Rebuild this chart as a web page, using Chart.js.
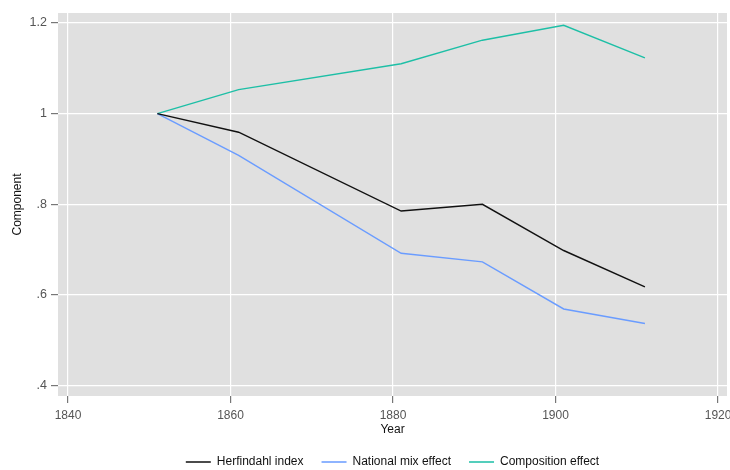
<!DOCTYPE html>
<html>
<head>
<meta charset="utf-8">
<script src="https://cdn.jsdelivr.net/npm/chart.js@4.4.1/dist/chart.umd.min.js"></script>
<style>
  html, body { margin: 0; padding: 0; background: #fff; }
  #wrap { width: 730px; height: 470px; }
</style>
</head>
<body>
<div id="wrap"><canvas id="chart"></canvas></div>
<script>
// values
const years = [1851, 1861, 1881, 1891, 1901, 1911];
const herfindahl = [1.000, 0.959, 0.785, 0.800, 0.698, 0.618];
const nationalMix = [1.000, 0.908, 0.692, 0.673, 0.569, 0.537];
const composition = [1.000, 1.053, 1.110, 1.162, 1.195, 1.123];
const xTicks = [1840, 1860, 1880, 1900, 1920];
const yTicks = [0.4, 0.6, 0.8, 1.0, 1.2];

const toPoints = vals => vals.map((v, i) => ({ x: years[i], y: v }));
const FONT = 'Liberation Sans';

// gray plot region like the stata scheme
const plotBg = {
  id: 'plotBg',
  beforeDraw(chart) {
    const a = chart.chartArea, ctx = chart.ctx;
    ctx.save();
    ctx.fillStyle = '#e0e0e0';
    ctx.fillRect(a.left, a.top, a.right - a.left, a.bottom - a.top);
    ctx.restore();
  }
};

const ctx = document.getElementById('chart');
new Chart(ctx, {
  type: 'line',
  data: {
    datasets: [
      { label: 'Herfindahl index', data: toPoints(herfindahl), borderColor: '#111111', backgroundColor: '#111111' },
      { label: 'National mix effect', data: toPoints(nationalMix), borderColor: '#6a9cff', backgroundColor: '#6a9cff' },
      { label: 'Composition effect', data: toPoints(composition), borderColor: '#1dbfa6', backgroundColor: '#1dbfa6' }
    ]
  },
  options: {
    responsive: true,
    maintainAspectRatio: false,
    animation: false,
    elements: {
      point: { radius: 0 },
      line: { borderWidth: 1.4, tension: 0 }
    },
    layout: { padding: { top: 13, right: 3, left: 0, bottom: 0 } },
    plugins: {
      tooltip: { enabled: false },
      legend: {
        position: 'bottom',
        fullSize: false, // centred under the plot region, not the canvas
        maxHeight: 32,
        labels: {
          font: { family: FONT, size: 12 },
          color: '#111',
          boxWidth: 25,
          boxHeight: 0,
          padding: 18,
          generateLabels: chart => {
            const items = Chart.defaults.plugins.legend.labels.generateLabels(chart);
            items.forEach(it => { it.lineWidth = 1.3; });
            return items;
          }
        }
      }
    },
    scales: {
      x: {
        type: 'linear',
        min: 1838.77,
        max: 1921.1,
        afterBuildTicks: s => { s.ticks = xTicks.map(v => ({ value: v })); },
        afterFit: s => { s.height = 42; s.paddingRight = 0; s.paddingLeft = 0; },
        grid: { color: '#ffffff', lineWidth: 1.2, tickColor: '#777', tickLength: 7 },
        border: { display: false },
        ticks: {
          font: { family: FONT, size: 12 },
          color: '#555',
          padding: 5,
          maxRotation: 0,
          callback: v => String(v)
        },
        title: { display: true, text: 'Year', font: { family: FONT, size: 12 }, color: '#111', padding: { top: 0, bottom: 1 } }
      },
      y: {
        min: 0.377,
        max: 1.222,
        afterBuildTicks: s => { s.ticks = yTicks.map(v => ({ value: v })); },
        afterFit: s => { s.width = 58; },
        grid: { color: '#ffffff', lineWidth: 1.2, tickColor: '#777', tickLength: 7 },
        border: { display: false },
        ticks: {
          font: { family: FONT, size: 12.5 },
          color: '#555',
          padding: 4,
          callback: v => {
            const r = Math.round(v * 10) / 10;
            return Number.isInteger(r) ? String(r) : String(r).replace(/^0/, '');
          }
        },
        title: { display: true, text: 'Component', font: { family: FONT, size: 12 }, color: '#111', padding: { top: 10, bottom: 0 } }
      }
    }
  },
  plugins: [plotBg]
});
</script>
</body>
</html>
